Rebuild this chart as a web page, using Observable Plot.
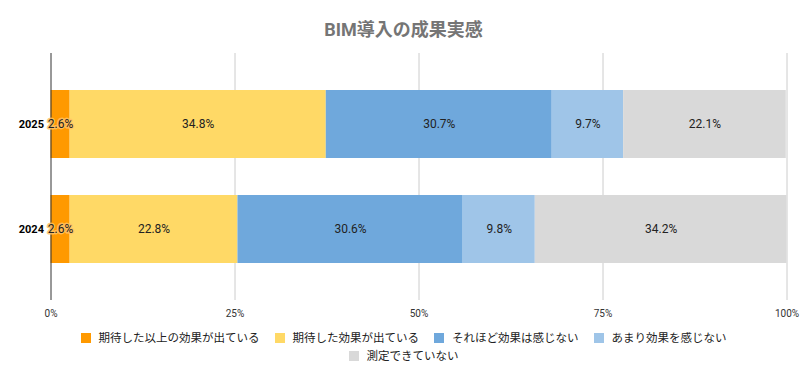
<!DOCTYPE html>
<html><head><meta charset="utf-8">
<script src="https://cdn.jsdelivr.net/npm/d3@7"></script>
<script src="https://cdn.jsdelivr.net/npm/@observablehq/plot@0.6"></script>
<style>
body{margin:0;background:#fff;font-family:Roboto,"Noto Sans CJK JP",sans-serif;width:807px;}
#title{height:51px;box-sizing:border-box;padding-top:18px;text-align:center;font-size:18px;font-weight:bold;color:#757575;line-height:24px;font-family:Roboto,"Noto Sans CJK JP",sans-serif;}
#legend{width:680px;margin:0 auto;padding-top:4px;display:flex;flex-wrap:wrap;justify-content:center;column-gap:15px;font-size:11.5px;line-height:18px;color:#222;font-family:Roboto,"Noto Sans CJK JP",sans-serif;}
.item{display:flex;align-items:center;white-space:nowrap;}
.sw{width:10px;height:10px;margin-right:8px;display:inline-block;}
#chart svg{display:block;}
</style>
</head><body>
<div id="title">BIM導入の成果実感</div>
<div id="chart"></div>
<div id="legend"></div>
<script>
const years = ["2025", "2024"];
const categories = ["期待した以上の効果が出ている", "期待した効果が出ている", "それほど効果は感じない", "あまり効果を感じない", "測定できていない"];
const values2025 = [2.6, 34.8, 30.7, 9.7, 22.1];
const values2024 = [2.6, 22.8, 30.6, 9.8, 34.2];
const colors = ["#ff9900", "#ffd966", "#6fa8dc", "#9fc5e8", "#d9d9d9"];
const xTicks = [0, 25, 50, 75, 100];

const seriesByYear = {"2025": values2025, "2024": values2024};
const data = [];
for (const y of years) categories.forEach((c, i) => data.push({year: y, cat: c, value: seriesByYear[y][i]}));
const fmt = v => v.toFixed(1) + "%";

const chart = Plot.plot({
  width: 807,
  height: 274,
  marginTop: 2,
  marginBottom: 25,
  marginLeft: 50.5,
  marginRight: 20.5,
  style: {fontFamily: "Roboto, 'Noto Sans CJK JP', sans-serif", background: "#fff"},
  x: {domain: [0, 100], ticks: xTicks, tickFormat: d => d + "%"},
  y: {domain: years, paddingInner: 0.352, paddingOuter: 0.35, label: null},
  color: {domain: categories, range: colors},
  marks: [
    Plot.gridX(xTicks.slice(1), {stroke: "#cccccc", strokeOpacity: 1}),
    Plot.barX(data, Plot.stackX({x: "value", y: "year", fill: "cat"})),
    Plot.ruleX([0], {stroke: "#333333", strokeWidth: 1}),
    Plot.axisX({ticks: xTicks, tickFormat: d => d + "%", tickSize: 0, tickPadding: 9, fontSize: 10, fill: "#333", label: null}),
    Plot.axisY({tickSize: 0, tickPadding: 7, fontSize: 11, fontWeight: "bold", fill: "#000", label: null}),
    Plot.text(data, Plot.stackX({x: "value", y: "year", text: d => d.cat === categories[0] ? "" : fmt(d.value), fontSize: 12, fill: "#222"})),
    Plot.text(data, Plot.stackX({x: "value", y: "year", filter: d => d.cat === categories[0], text: d => fmt(d.value), fontSize: 12, fill: "#222", stroke: "#ffc266", strokeWidth: 3, strokeOpacity: 0.85}))
  ]
});
document.getElementById("chart").appendChild(chart);

const legend = document.getElementById("legend");
categories.forEach((c, i) => {
  const it = document.createElement("div");
  it.className = "item";
  const sw = document.createElement("span");
  sw.className = "sw";
  sw.style.background = colors[i];
  const t = document.createElement("span");
  t.textContent = c;
  it.appendChild(sw); it.appendChild(t);
  legend.appendChild(it);
});
</script>
</body></html>
